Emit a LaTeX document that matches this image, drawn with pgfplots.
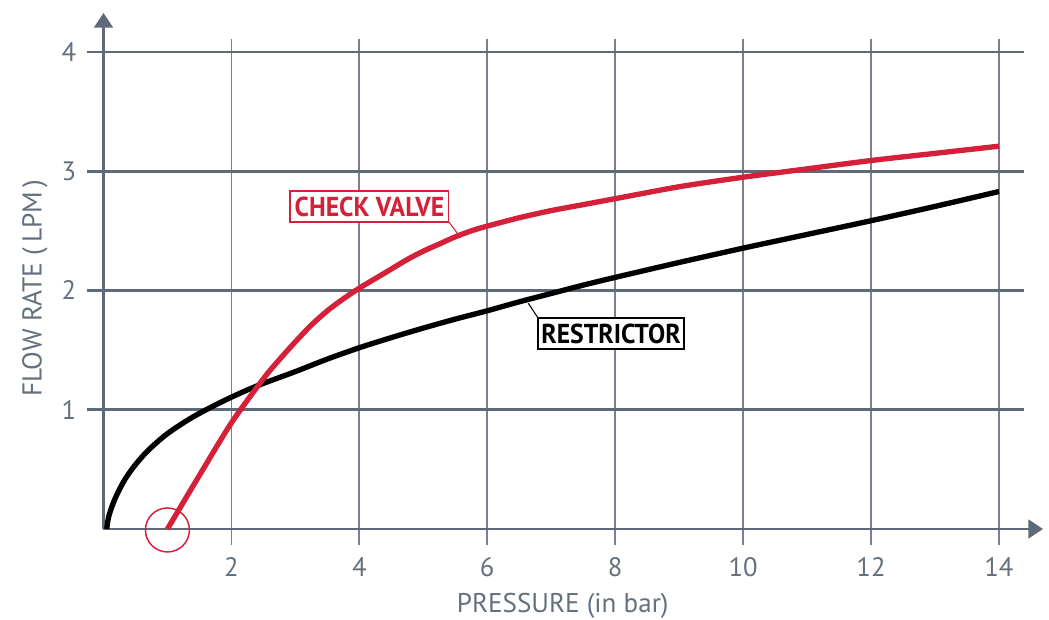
\documentclass[border=0pt]{standalone}
\usepackage{fontspec}
\setmainfont{PT Sans}
\usepackage{pgfplots}
\pgfplotsset{compat=1.18}
\usetikzlibrary{arrows.meta}
\definecolor{cvred}{RGB}{212,32,56}
\definecolor{gridgray}{RGB}{94,106,119}
\definecolor{vgray}{RGB}{118,130,143}
\definecolor{txtgray}{RGB}{100,112,125}
\begin{document}
\begin{tikzpicture}
\begin{axis}[
  x=47.97pt, y=89.44pt,
  xmin=0, xmax=14, ymin=0, ymax=4,
  axis lines=left,
  axis line style={draw=none},
  clip=false,
  xtick={2,4,...,14}, ytick={1,2,3,4},
  major tick length=0pt,
  tick label style={font=\fontsize{20}{24}\selectfont, text=txtgray},
  /pgf/number format/assume math mode=true,
  xticklabel style={anchor=center, yshift=-28.5pt},
  yticklabel style={anchor=center, xshift=-26pt},
]
% grid
\pgfplotsinvokeforeach{2,4,6,8,10,12,14}{
  \draw[vgray, line width=1.3pt] (axis cs:#1,-0.13) -- (axis cs:#1,4.106);
}
\pgfplotsinvokeforeach{1,2,3,4}{
  \draw[gridgray, line width=2.2pt] (axis cs:-0.257,#1) -- (axis cs:14.39,#1);
}
% axes
\draw[gridgray, line width=2.2pt, -{Triangle[length=11pt, width=14pt]}] (axis cs:0,0) -- (axis cs:0,4.327);
\draw[gridgray, line width=2.2pt, -{Triangle[length=11pt, width=14pt]}] (axis cs:0,0) -- (axis cs:14.69,0);

% restrictor
\addplot[black, line width=4pt, smooth, tension=0.5, line cap=butt] coordinates {
(0.05,0) (0.08,0.1) (0.14,0.2) (0.22,0.3) (0.34,0.42) (0.5,0.54) (0.7,0.66)
(1,0.8) (1.4,0.94) (1.9,1.08) (2.4,1.2) (3,1.32) (3.5,1.425) (4,1.52)
(4.5,1.605) (5,1.685) (5.5,1.76) (6,1.83) (6.5,1.905) (7,1.975)
(7.5,2.045) (8,2.11) (9,2.235) (10,2.355) (11,2.47) (12,2.585) (13,2.705) (14,2.83)
};
% check valve
\addplot[cvred, line width=4pt, smooth, tension=0.5, line cap=butt] coordinates {
(1,0) (1.5,0.45) (2,0.89) (2.5,1.26) (2.75,1.42) (3,1.57) (3.25,1.71) (3.5,1.83)
(3.75,1.93) (4,2.02) (4.25,2.1) (4.5,2.18) (4.75,2.26) (5,2.33) (5.25,2.39)
(5.5,2.45) (5.75,2.5) (6,2.54) (6.5,2.61) (7,2.67) (7.5,2.72) (8,2.77) (9,2.87)
(10,2.95) (11,3.02) (12,3.09) (13,3.15) (14,3.21)
};
% circle
\draw[cvred, line width=1.1pt] (axis cs:1,-0.008) circle[radius=16.5pt];

% labels
\draw[cvred, line width=0.8pt] (axis cs:5.402,2.574) -- (axis cs:5.574,2.449);
\node[draw=cvred, line width=1pt, fill=white, text=cvred,
  font=\bfseries\fontsize{20.5}{24}\selectfont,
  minimum width=119pt, minimum height=23.25pt, inner sep=0pt]
  at (axis cs:4.159,2.704) {\scalebox{0.94}[1]{CHECK VALVE}};
\draw[black, line width=0.8pt] (axis cs:6.642,1.893) -- (axis cs:6.80,1.765);
\node[draw=black, line width=1pt, fill=white, text=black,
  font=\bfseries\fontsize{20.5}{24}\selectfont,
  minimum width=109.5pt, minimum height=23.25pt, inner sep=0pt]
  at (axis cs:7.935,1.639) {\scalebox{0.94}[1]{RESTRICTOR}};

% axis titles
\node[anchor=base, text=txtgray, font=\fontsize{20.3}{24}\selectfont]
  at (axis cs:7.18,-0.696) {PRESSURE (in bar)};
\node[anchor=base, rotate=90, text=txtgray, font=\fontsize{20.5}{24}\selectfont]
  at (axis cs:-0.966,2.02) {FLOW RATE (\,LPM\,)};

\coordinate (bbll) at (axis cs:-1.618,-0.755);
\coordinate (bbur) at (axis cs:14.783,4.436);
\end{axis}
\pgfresetboundingbox
\path[use as bounding box] (bbll) rectangle (bbur);
\end{tikzpicture}
\end{document}
